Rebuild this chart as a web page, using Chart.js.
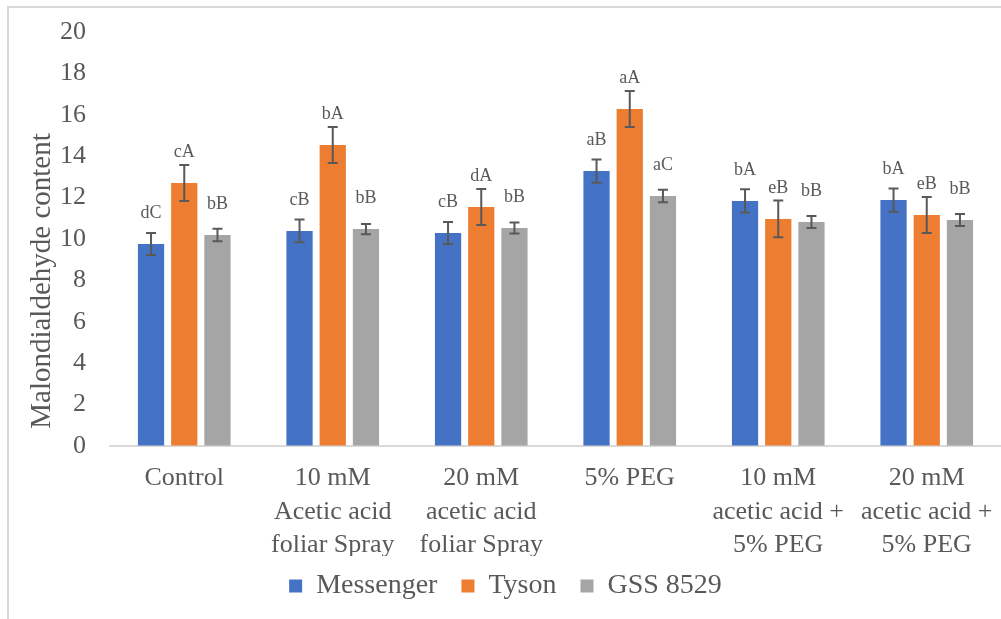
<!DOCTYPE html>
<html>
<head>
<meta charset="utf-8">
<script src="https://cdn.jsdelivr.net/npm/chart.js@4/dist/chart.umd.min.js"></script>
<style>
  html, body { margin: 0; padding: 0; background: #fff; }
  #wrap { width: 1001px; height: 619px; }
</style>
</head>
<body>
<div id="wrap"><canvas id="chart" width="1001" height="619"></canvas></div>
<script>
const categories = [
  ["Control"],
  ["10 mM", "Acetic acid", "foliar Spray"],
  ["20 mM", "acetic acid", "foliar Spray"],
  ["5% PEG"],
  ["10 mM", "acetic acid +", "5% PEG"],
  ["20 mM", "acetic acid +", "5% PEG"]
];
const seriesNames = ["Messenger", "Tyson", "GSS 8529"];
const colors = ["#4472C4", "#ED7D31", "#A5A5A5"];

const messenger = [9.76, 10.39, 10.29, 13.28, 11.84, 11.88];
const tyson = [12.7, 14.54, 11.55, 16.28, 10.97, 11.16];
const gss = [10.19, 10.48, 10.53, 12.08, 10.82, 10.92];

const messengerErr = [0.53, 0.55, 0.53, 0.56, 0.56, 0.56];
const tysonErr = [0.87, 0.87, 0.87, 0.87, 0.89, 0.87];
const gssErr = [0.3, 0.25, 0.27, 0.3, 0.29, 0.29];

const messengerLetters = ["dC", "cB", "cB", "aB", "bA", "bA"];
const tysonLetters = ["cA", "bA", "dA", "aA", "eB", "eB"];
const gssLetters = ["bB", "bB", "bB", "aC", "bB", "bB"];

const yTicks = [0, 2, 4, 6, 8, 10, 12, 14, 16, 18, 20];
const yTitle = "Malondialdehyde content";

const values = [messenger, tyson, gss];
const errors = [messengerErr, tysonErr, gssErr];
const letters = [messengerLetters, tysonLetters, gssLetters];

const FONT = "'Liberation Serif', 'Times New Roman', serif";
const TEXT = "#595959";
const PAD_BOTTOM = 9;

// white page with the light frame on left and top, plus the y title
const frame = {
  id: "frame",
  beforeDraw(chart) {
    const ctx = chart.ctx;
    ctx.save();
    ctx.fillStyle = "#fff";
    ctx.fillRect(0, 0, chart.width, chart.height);
    ctx.strokeStyle = "#D9D9D9";
    ctx.lineWidth = 2;
    ctx.beginPath();
    ctx.moveTo(8, chart.height);
    ctx.lineTo(8, 7);
    ctx.lineTo(chart.width, 7);
    ctx.stroke();

    // axis title, sits a bit below the plot centre like the original
    ctx.translate(42, 281);
    ctx.rotate(-Math.PI / 2);
    ctx.fillStyle = TEXT;
    ctx.font = "29px " + FONT;
    ctx.textAlign = "center";
    ctx.textBaseline = "middle";
    ctx.fillText(yTitle, 0, 0);
    ctx.restore();
  },
  afterLayout(chart) {
    // let the 3-line category labels run into the gap above the legend
    chart.scales.x.bottom = chart.legend.top + 8;
  }
};

// error bars and significance letters
const errorBars = {
  id: "errorBars",
  afterDatasetsDraw(chart) {
    const ctx = chart.ctx;
    const y = chart.scales.y;
    ctx.save();
    chart.data.datasets.forEach((ds, i) => {
      const meta = chart.getDatasetMeta(i);
      meta.data.forEach((bar, j) => {
        const v = values[i][j];
        const e = errors[i][j];
        const top = y.getPixelForValue(v + e);
        const bottom = y.getPixelForValue(v - e);
        ctx.strokeStyle = "#595959";
        ctx.lineWidth = 2;
        ctx.beginPath();
        ctx.moveTo(bar.x, top);
        ctx.lineTo(bar.x, bottom);
        ctx.moveTo(bar.x - 5, top);
        ctx.lineTo(bar.x + 5, top);
        ctx.moveTo(bar.x - 5, bottom);
        ctx.lineTo(bar.x + 5, bottom);
        ctx.stroke();

        ctx.fillStyle = TEXT;
        ctx.font = "18px " + FONT;
        ctx.textAlign = "center";
        ctx.textBaseline = "alphabetic";
        ctx.fillText(letters[i][j], bar.x, y.getPixelForValue(v) - 26);
      });
    });
    ctx.restore();
  }
};

// invisible tick marks: they move labels off the axis without the
// extra side padding that ticks.padding would add
const hiddenTicks = (len) => ({
  display: true,
  drawOnChartArea: false,
  drawTicks: true,
  tickLength: len,
  color: "rgba(0,0,0,0)"
});

new Chart(document.getElementById("chart"), {
  type: "bar",
  data: {
    labels: categories,
    datasets: seriesNames.map((name, i) => ({
      label: name,
      data: values[i],
      backgroundColor: colors[i],
      borderWidth: 0,
      categoryPercentage: 0.671,
      barPercentage: 0.79
    }))
  },
  options: {
    responsive: false,
    animation: false,
    layout: { padding: { left: 10, right: 0, top: 32, bottom: PAD_BOTTOM } },
    plugins: {
      legend: {
        position: "bottom",
        labels: {
          boxWidth: 13,
          boxHeight: 13,
          padding: 24,
          color: TEXT,
          font: { family: FONT, size: 28 }
        }
      },
      tooltip: { enabled: false }
    },
    scales: {
      x: {
        grid: hiddenTicks(13),
        border: { display: true, color: "#D9D9D9", width: 2 },
        ticks: {
          color: TEXT,
          font: { family: FONT, size: 26, lineHeight: 1.28 },
          padding: 3,
          maxRotation: 0,
          autoSkip: false
        },
        afterFit(scale) {
          scale.height = scale.chart.height - PAD_BOTTOM - scale.chart.legend.height - 446;
        }
      },
      y: {
        min: 0,
        max: 20,
        afterBuildTicks(scale) {
          scale.ticks = yTicks.map(v => ({ value: v }));
        },
        grid: hiddenTicks(21),
        border: { display: false },
        ticks: {
          color: TEXT,
          font: { family: FONT, size: 26 },
          padding: 3
        },
        afterFit(scale) {
          scale.width = 100;
        }
      }
    }
  },
  plugins: [frame, errorBars]
});
</script>
</body>
</html>
